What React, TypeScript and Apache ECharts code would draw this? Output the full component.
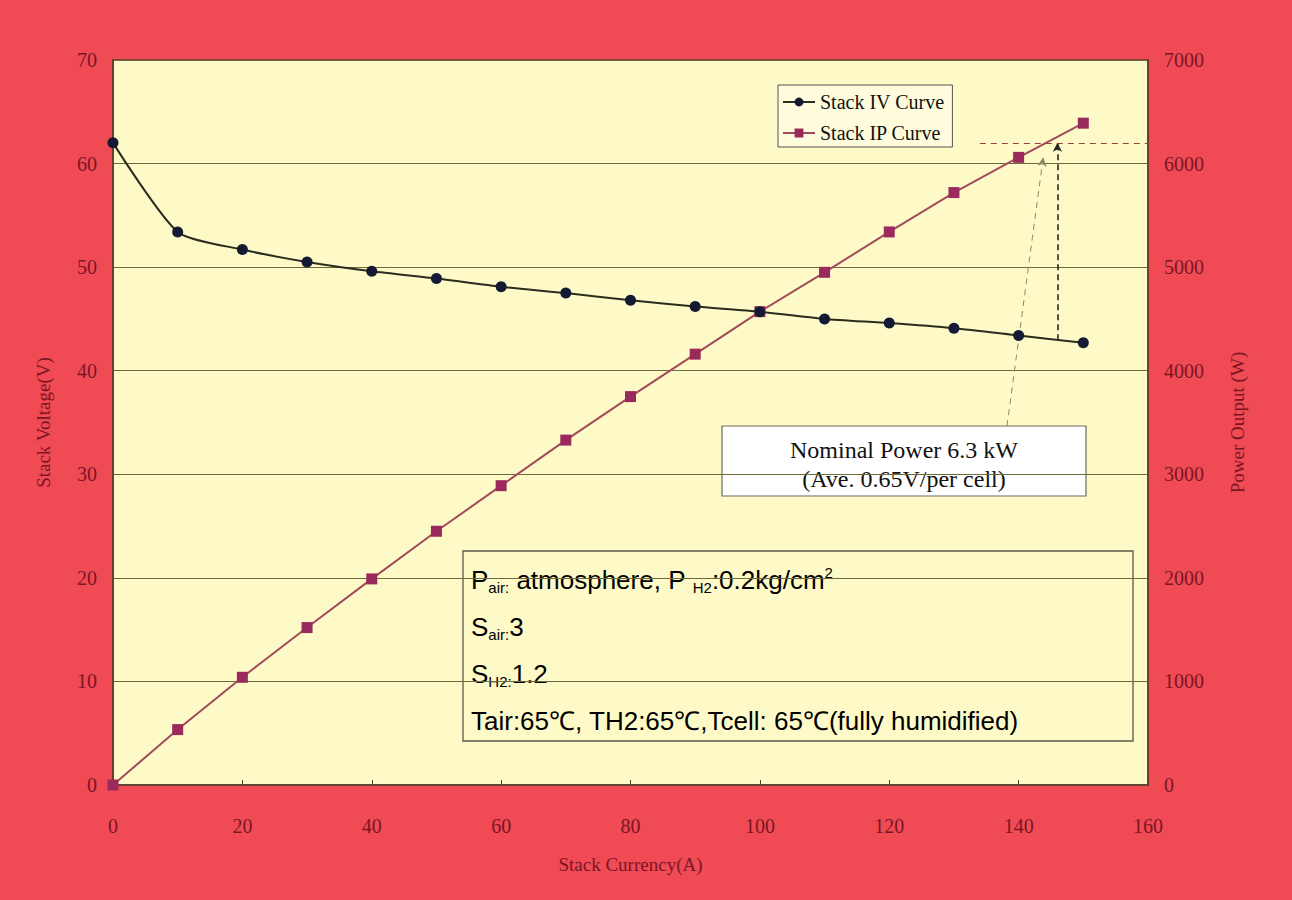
import React, { useEffect, useRef } from "react";
import * as echarts from "echarts";

const currents = [0, 10, 20, 30, 40, 50, 60, 70, 80, 90, 100, 110, 120, 130, 140, 150];
const voltage = [62.0, 53.4, 51.7, 50.5, 49.6, 48.9, 48.1, 47.5, 46.8, 46.2, 45.7, 45.0, 44.6, 44.1, 43.4, 42.7];
const power = [0, 535, 1040, 1520, 1990, 2450, 2890, 3330, 3750, 4160, 4570, 4950, 5340, 5720, 6060, 6390];

const seriesNames = ["Stack IV Curve", "Stack IP Curve"];
const axisNames = { x: "Stack Currency(A)", left: "Stack Voltage(V)", right: "Power Output (W)" };
const nominalLines = ["Nominal Power 6.3 kW", "(Ave. 0.65V/per cell)"];
const nominalPower = 6200;
const nominalCurrent = 146;
const nominalVoltage = 42.95;

const RED = "#F04A55";
const PLOT = "#FDFAC8";
const LABEL = "#7a1624";
const SERIF = "'Liberation Serif', 'Times New Roman', serif";
const SANS = "'Liberation Sans', Arial, sans-serif";

export default function App() {
  const ref = useRef<HTMLDivElement>(null);
  useEffect(() => {
    if (!ref.current) return;
    const chart = echarts.init(ref.current, null, { renderer: "svg" });
    const rich = {
      m: { fontSize: 26, lineHeight: 30, fontFamily: SANS, color: "#111" },
      sub: { fontSize: 15, lineHeight: 15, fontFamily: SANS, color: "#111", verticalAlign: "bottom" },
      sup: { fontSize: 15, lineHeight: 15, fontFamily: SANS, color: "#111", verticalAlign: "top" },
    };
    const condLines = [
      "{m|P}{sub|air:}{m| atmosphere, P }{sub|H2}{m|:0.2kg/cm}{sup|2}",
      "{m|S}{sub|air:}{m|3}",
      "{m|S}{sub|H2:}{m|1.2}",
      "{m|Tair:65℃, TH2:65℃,Tcell: 65℃(fully humidified)}",
    ];
    const condY = [580, 627, 674, 721];
    chart.setOption({
      animation: false,
      backgroundColor: RED,
      grid: {
        left: 113,
        right: 144,
        top: 60,
        bottom: 115,
        show: true,
        backgroundColor: PLOT,
        borderColor: "#5e3a2a",
        borderWidth: 1.5,
      },
      legend: {
        orient: "vertical",
        left: 778,
        top: 85,
        data: seriesNames,
        backgroundColor: "#FEFCDC",
        borderColor: "#555",
        borderWidth: 1,
        padding: [7, 8, 4, 4],
        itemGap: 11,
        itemWidth: 32,
        itemHeight: 11,
        textStyle: { fontFamily: SERIF, fontSize: 20, color: "#111" },
      },
      xAxis: {
        type: "value",
        min: 0,
        max: 160,
        interval: 20,
        name: axisNames.x,
        nameLocation: "middle",
        nameGap: 70,
        nameTextStyle: { fontFamily: SERIF, fontSize: 19, color: LABEL },
        axisLine: { show: true, lineStyle: { color: "#5e3a2a", width: 1.5 } },
        axisTick: { show: true, inside: true, length: 5, lineStyle: { color: "#5e3a2a" } },
        axisLabel: { fontFamily: SERIF, fontSize: 20, color: LABEL, margin: 31 },
        splitLine: { show: false },
      },
      yAxis: [
        {
          type: "value",
          min: 0,
          max: 70,
          interval: 10,
          position: "left",
          name: axisNames.left,
          nameLocation: "middle",
          nameGap: 60,
          nameTextStyle: { fontFamily: SERIF, fontSize: 19, color: LABEL },
          axisLine: { show: true, lineStyle: { color: "#5e3a2a", width: 1.5 } },
          axisTick: { show: false },
          axisLabel: { fontFamily: SERIF, fontSize: 20, color: LABEL, margin: 16 },
          splitLine: { show: true, lineStyle: { color: "#6e6a3c", width: 1.2 } },
        },
        {
          type: "value",
          min: 0,
          max: 7000,
          interval: 1000,
          position: "right",
          name: axisNames.right,
          nameLocation: "middle",
          nameGap: 80,
          nameRotate: 90,
          nameTextStyle: { fontFamily: SERIF, fontSize: 19, color: LABEL },
          axisLine: { show: true, lineStyle: { color: "#5e3a2a", width: 1.5 } },
          axisTick: { show: false },
          axisLabel: { fontFamily: SERIF, fontSize: 20, color: LABEL, margin: 16, formatter: (v: number) => String(v) },
          splitLine: { show: false },
        },
      ],
      series: [
        {
          name: seriesNames[0],
          type: "line",
          yAxisIndex: 0,
          data: currents.map((c, i) => [c, voltage[i]]),
          smooth: 0.22,
          symbol: "circle",
          symbolSize: 11,
          itemStyle: { color: "#141a33" },
          lineStyle: { color: "#2b2b1e", width: 2 },
          z: 5,
          markLine: {
            silent: true,
            symbol: ["none", "arrow"],
            symbolSize: [7, 9],
            label: { show: false },
            data: [
              [
                { coord: [nominalCurrent, nominalVoltage], lineStyle: { color: "#2a2a22", width: 1.6, type: [6, 4] } },
                { coord: [nominalCurrent, nominalPower / 100] },
              ],
              [
                { coord: [138.2, 34.66], lineStyle: { color: "#8a8a66", width: 1, type: [6, 5] }, symbolSize: [5, 6] },
                { coord: [143.8, 60.6] },
              ],
            ],
          },
        },
        {
          name: seriesNames[1],
          type: "line",
          yAxisIndex: 1,
          data: currents.map((c, i) => [c, power[i]]),
          symbol: "rect",
          symbolSize: 11,
          itemStyle: { color: "#9a2a5c" },
          lineStyle: { color: "#a24a5a", width: 2 },
          z: 4,
          markLine: {
            silent: true,
            symbol: ["none", "none"],
            label: { show: false },
            lineStyle: { color: "#9a4040", width: 1.2, type: [6, 5] },
            data: [[{ coord: [134, nominalPower] }, { coord: [160, nominalPower] }]],
          },
        },
      ],
      graphic: [
        {
          type: "group",
          z: 100,
          children: [
            {
              type: "rect",
              shape: { x: 722, y: 426, width: 364, height: 70 },
              style: { fill: "#ffffff", stroke: "#6a6a5a", lineWidth: 1.2 },
            },
            {
              type: "text",
              x: 904,
              y: 464,
              style: {
                text: nominalLines.join("\n"),
                fontFamily: SERIF,
                fontSize: 24,
                lineHeight: 29,
                fill: "#111",
                align: "center",
                verticalAlign: "middle",
              },
            },
            {
              type: "rect",
              shape: { x: 463, y: 551, width: 670, height: 190 },
              style: { fill: PLOT, stroke: "#5a5a44", lineWidth: 1.3 },
            },
            ...condLines.map((t, i) => ({
              type: "text",
              x: 471,
              y: condY[i],
              style: { text: t, rich, align: "left", verticalAlign: "middle" },
            })),
          ],
        },
      ],
    });
    return () => chart.dispose();
  }, []);
  return <div ref={ref} style={{ position: "absolute", left: 0, top: 0, width: 1292, height: 900 }} />;
}
